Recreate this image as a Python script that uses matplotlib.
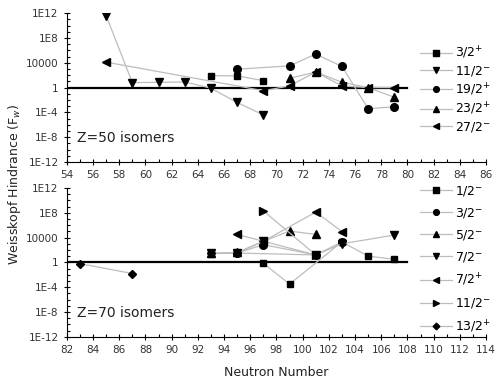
import matplotlib
matplotlib.use("Agg")
import matplotlib.pyplot as plt
from matplotlib.ticker import FixedLocator, MultipleLocator, NullFormatter
import numpy as np

nan = np.nan

# Z=50 isomers: neutron number and log10(F_w)
z50_labels = ['3/2$^{+}$', '11/2$^{-}$', '19/2$^{+}$', '23/2$^{+}$', '27/2$^{-}$']
z50_markers = ['s', 'v', 'o', '^', '<']
z50_n = [
    [65, 67, 69],
    [57, 59, 61, 63, 65, 67, 69],
    [67, 71, 73, 75, 77, 79],
    [71, 73, 75, 77, 79],
    [57, 69, 71, 73, 75, 77, 79],
]
z50_logf = [
    [1.94, 1.88, 1.13],
    [11.6, 0.8, 0.85, 0.9, -0.1, -2.4, -4.4],
    [2.96, 3.5, 5.4, 3.4, -3.4, -3.1],
    [1.5, 2.5, 0.86, 0.0, -1.56],
    [4.1, -0.5, 0.27, 2.5, 0.27, 0.0, 0.0],
]

# Z=70 isomers
z70_labels = ['1/2$^{-}$', '3/2$^{-}$', '5/2$^{-}$', '7/2$^{-}$', '7/2$^{+}$',
              '11/2$^{-}$', '13/2$^{+}$']
z70_markers = ['s', 'o', '^', 'v', '<', '>', 'D']
z70_n = [
    [93, 95, 101, nan, 97, 99, 103, 105, 107],
    [95, 97, 101, 103],
    [93, 95, 97, 99, 101],
    [93, 95, 97, 101, 103, 107],
    [95, 97, 101, 103],
    [97, 101],
    [83, 87, nan, 93, 95],
]
z70_logf = [
    [1.4, 1.5, 1.2, nan, -0.15, -3.5, 3.3, 1.0, 0.5],
    [1.5, 2.85, 1.2, 3.3],
    [1.45, 1.6, 3.4, 5.05, 4.5],
    [1.45, 1.5, 3.4, 1.2, 3.0, 4.4],
    [4.5, 3.4, 8.1, 4.95],
    [8.3, 1.2],
    [-0.2, -1.8, nan, 1.45, 1.5],
]

ytick_vals = [1e-12, 1e-8, 1e-4, 1, 1e4, 1e8, 1e12]
ytick_labels = ['1E-12', '1E-8', '1E-4', '1', '10000', '1E8', '1E12']


def draw_panel(ax, ns, logfs, labels, markers, xlim, ref_end, title, leg_y, spacing):
    for n, lf, lab, m in zip(ns, logfs, labels, markers):
        ms = 5.5
        if m == 'D':
            ms = 4.5
        elif m == 's':
            ms = 5
        ax.plot(n, 10.0 ** np.array(lf), color='#bdbdbd', lw=0.9,
                marker=m, ms=ms, mfc='black', mec='black', label=lab)
    ax.plot([xlim[0], ref_end], [1, 1], color='black', lw=1.6, zorder=1)
    ax.set_yscale('log')
    ax.set_xlim(*xlim)
    ax.set_ylim(1e-12, 1e12)
    ax.yaxis.set_major_locator(FixedLocator(ytick_vals))
    ax.yaxis.set_minor_locator(FixedLocator(10.0 ** np.arange(-12, 13)))
    ax.yaxis.set_minor_formatter(NullFormatter())
    ax.set_yticklabels(ytick_labels)
    ax.xaxis.set_major_locator(MultipleLocator(2))
    ax.xaxis.set_minor_locator(MultipleLocator(1))
    ax.tick_params(which='major', direction='inout', length=5, width=0.8,
                   labelsize=7.5, colors='black', labelcolor='#333333')
    ax.tick_params(which='minor', direction='in', length=2.5, width=0.8)
    for s in ['top', 'right']:
        ax.spines[s].set_visible(False)
    ax.spines['left'].set_linewidth(0.8)
    ax.spines['bottom'].set_linewidth(0.8)
    ax.text(0.025, 0.16, title, transform=ax.transAxes, fontsize=10,
            va='center', ha='left', color='#222222')
    ax.legend(loc='center left', bbox_to_anchor=(0.83, leg_y), frameon=False,
              fontsize=9, handlelength=2.6, handletextpad=0.2, markerscale=0.75,
              labelspacing=spacing, borderaxespad=0)


fig = plt.figure(figsize=(4.95, 3.85), dpi=100)
ax1 = fig.add_axes([0.135, 0.579, 0.847, 0.387])
ax2 = fig.add_axes([0.135, 0.125, 0.847, 0.387])

draw_panel(ax1, z50_n, z50_logf, z50_labels, z50_markers, (54, 86), 80,
           'Z=50 isomers', 0.487, 0.24)
draw_panel(ax2, z70_n, z70_logf, z70_labels, z70_markers, (82, 114), 108,
           'Z=70 isomers', 0.52, 0.64)

ax2.set_xlabel('Neutron Number', fontsize=9, labelpad=8, color='#222222')
fig.text(0.03, 0.52, 'Weisskopf Hindrance (F$_w$)', rotation=90, fontsize=9,
         va='center', ha='center', color='#222222')

fig.savefig('out.png', dpi=100)
